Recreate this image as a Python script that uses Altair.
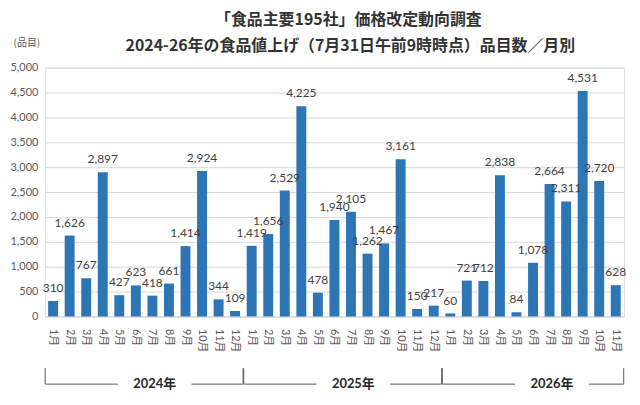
import altair as alt
import pandas as pd

title_line1 = "「食品主要195社」価格改定動向調査"
title_line2 = "2024-26年の食品値上げ（7月31日午前9時時点）品目数／月別"
unit_label = "(品目)"

years = ["2024", "2025", "2026"]
values_2024 = [310, 1626, 767, 2897, 427, 623, 418, 661, 1414, 2924, 344, 109]
values_2025 = [1419, 1656, 2529, 4225, 478, 1940, 2105, 1262, 1467, 3161, 150, 217]
values_2026 = [60, 721, 712, 2838, 84, 1078, 2664, 2311, 4531, 2720, 628]
y_ticks = [0, 500, 1000, 1500, 2000, 2500, 3000, 3500, 4000, 4500, 5000]

rows = []
for yr, vals in zip(years, [values_2024, values_2025, values_2026]):
    for i, v in enumerate(vals):
        rows.append({"key": f"{yr}-{i+1}", "value": v})
df = pd.DataFrame(rows)
order = list(df["key"])

yr_rows = []
for yr, vals in zip(years, [values_2024, values_2025, values_2026]):
    yr_rows.append({"start": f"{yr}-1", "end": f"{yr}-{len(vals)}", "mid": f"{yr}-6", "label": f"{yr}年"})
ydf = pd.DataFrame(yr_rows)

LAT = "Lato, 'Noto Sans CJK JP'"
JP = "'Noto Sans CJK JP'"
BLUE = "#2E75B6"

xscale = alt.Scale(domain=order, paddingInner=0.4, paddingOuter=0.2)
yscale = alt.Scale(domain=[0, 5000], nice=False)
xaxis = alt.Axis(title=None, labelAngle=90, labelAlign="left", labelBaseline="middle",
                 labelPadding=12, ticks=False, domainColor="#d9d9d9",
                 labelExpr="split(datum.value,'-')[1] + '月'",
                 labelFont=LAT, labelFontSize=11, labelColor="#595959")
yaxis = alt.Axis(title=None, values=y_ticks, labelExpr="format(datum.value, ',d')",
                 domain=False, ticks=False, labelOverlap=False,
                 gridColor="#d9d9d9", labelPadding=7, labelFont=LAT,
                 labelFontSize=11, labelColor="#595959")

def X(field, bp=0.5):
    return alt.X(field, sort=order, scale=xscale, axis=xaxis, bandPosition=bp)

base = alt.Chart(df)
bars = base.mark_bar(color=BLUE).encode(
    x=alt.X("key:N", sort=order, scale=xscale, axis=xaxis),
    y=alt.Y("value:Q", scale=yscale, axis=yaxis),
)
labels = base.mark_text(baseline="bottom", dy=-6, font=LAT, fontSize=12, color="#404040").encode(
    x=alt.X("key:N", sort=order, scale=xscale, axis=xaxis),
    y=alt.Y("value:Q", scale=yscale, axis=yaxis),
    text=alt.Text("value:Q", format=",d"),
)

yb = alt.Chart(ydf)
y_top, y_bot = 302, 318
LINE = "#595959"
left_v = yb.mark_rule(color=LINE, xOffset=-3).encode(
    x=X("start:N", 0), y=alt.value(y_top), y2=alt.value(y_bot))
right_v = yb.mark_rule(color=LINE, xOffset=3).encode(
    x=X("end:N", 1), y=alt.value(y_top), y2=alt.value(y_bot))
left_h = yb.mark_rule(color=LINE, xOffset=-3, x2Offset=-18).encode(
    x=X("start:N", 0), x2=alt.X2("mid:N", bandPosition=0.5), y=alt.value(y_bot))
right_h = yb.mark_rule(color=LINE, xOffset=56, x2Offset=3).encode(
    x=X("mid:N", 0.5), x2=alt.X2("end:N", bandPosition=1), y=alt.value(y_bot))
year_text = yb.mark_text(dx=19, font=LAT, fontSize=13, fontWeight="bold", color="#262626",
                         baseline="middle").encode(
    x=X("mid:N", 0.5), y=alt.value(y_bot), text="label:N")

tdf = pd.DataFrame({"t1": [title_line1], "t2": [title_line2], "u": [unit_label]})
tb = alt.Chart(tdf)
t1 = tb.mark_text(font=JP, fontSize=16, fontWeight="bold", color="#333333").encode(
    text="t1:N", x=alt.value(305), y=alt.value(-48))
t2 = tb.mark_text(font=JP, fontSize=16, fontWeight="bold", color="#333333").encode(
    text="t2:N", x=alt.value(307), y=alt.value(-22))
t3 = tb.mark_text(font=JP, fontSize=10, color="#595959").encode(
    text="u:N", x=alt.value(-18), y=alt.value(-25))

chart = alt.layer(bars, labels, left_v, right_v, left_h, right_h, year_text, t1, t2, t3).properties(
    width=582, height=250,
    autosize=alt.AutoSizeParams(type="none"),
    padding={"left": 37, "top": 59, "right": 8, "bottom": 78},
).configure_view(stroke=None).configure(background="white")

chart.save("out.html", embed_options={"renderer": "svg", "actions": False})
